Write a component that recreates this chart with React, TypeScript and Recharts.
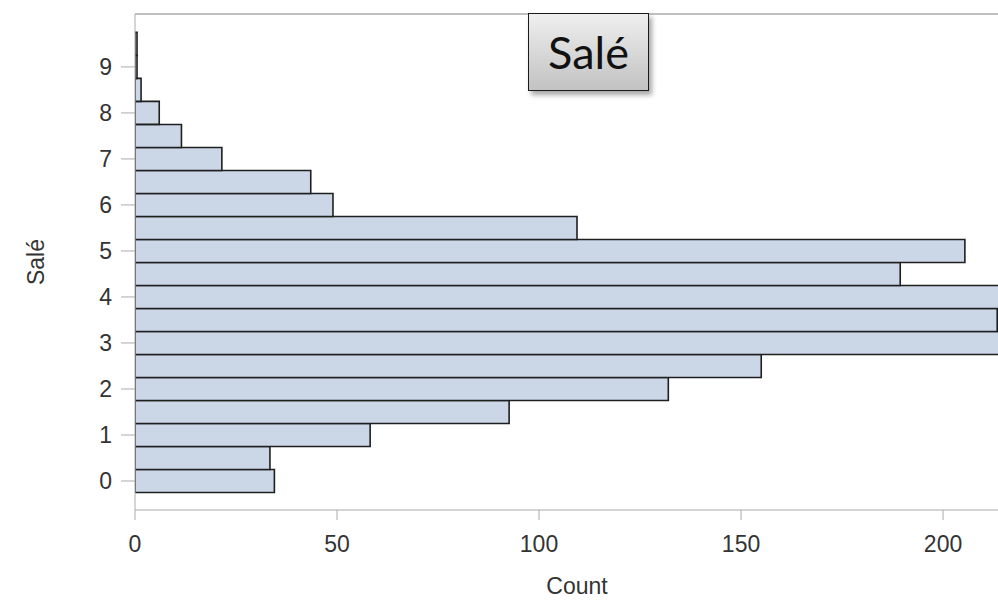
import React from 'react';
import { BarChart, Bar, XAxis, YAxis, ReferenceLine } from 'recharts';

// bin midpoints of "Salé" and their counts (bars above ~213 run off the frame)
const bins = [0, 0.5, 1, 1.5, 2, 2.5, 3, 3.5, 4, 4.5, 5, 5.5, 6, 6.5, 7, 7.5, 8, 8.5, 9, 9.5];
const counts = [34.5, 33.4, 58.2, 92.6, 132, 155, 225, 213.4, 230, 189.4, 205.4, 109.4, 49, 43.5, 21.5, 11.5, 6, 1.5, 0.5, 0.5];
const yTicks = [0, 1, 2, 3, 4, 5, 6, 7, 8, 9];
const xTicks = [0, 50, 100, 150, 200];

const data = bins.map((b, i) => ({ bin: b, count: counts[i] }));

const axisGray = '#a9abad';
const textGray = '#333333';

const CountLabel = (props: any) => {
    const vb = props.viewBox;
    return (
        <text x={577} y={vb.y + 84} textAnchor="middle" fill={textGray} fontSize={23}>
            Count
        </text>
    );
};

const App: React.FC = () => {
    return (
        <div style={{ position: 'relative', width: 998, height: 600, overflow: 'hidden', fontFamily: '"Liberation Sans", Arial, sans-serif' }}>
            <style>{'body { margin: 0; }'}</style>
            <BarChart
                width={998}
                height={600}
                data={data}
                layout="vertical"
                margin={{ top: 14, right: 0, left: 0, bottom: 0 }}
                barCategoryGap={0}
            >
                <XAxis
                    type="number"
                    dataKey="count"
                    domain={[0, 213.6]}
                    allowDataOverflow
                    ticks={xTicks}
                    height={90}
                    tickSize={10}
                    tickMargin={16}
                    stroke={axisGray}
                    tick={{ fill: textGray, fontSize: 23 }}
                    label={{ content: CountLabel }}
                />
                <YAxis
                    type="number"
                    dataKey="bin"
                    domain={[-0.63, 10.15]}
                    allowDataOverflow
                    reversed
                    ticks={yTicks}
                    width={135}
                    tickSize={14}
                    tickMargin={9}
                    stroke={axisGray}
                    tick={{ fill: textGray, fontSize: 23 }}
                    label={{ value: 'Salé', angle: -90, position: 'insideLeft', offset: 36, fill: textGray, fontSize: 23, style: { textAnchor: 'middle' } }}
                />
                <ReferenceLine y={10.15} stroke={axisGray} strokeWidth={1.5} ifOverflow="extendDomain" />
                <Bar
                    dataKey="count"
                    fill="#cbd7e7"
                    stroke="#1f1f1f"
                    strokeWidth={1.6}
                    barSize={23}
                    isAnimationActive={false}
                />
            </BarChart>
            <div
                style={{
                    position: 'absolute',
                    left: 528,
                    top: 13,
                    width: 119,
                    height: 76,
                    border: '1.5px solid #1a1a1a',
                    background: 'linear-gradient(#efefef, #c2c2c2)',
                    boxShadow: '3px 4px 5px rgba(0,0,0,0.35)',
                    display: 'flex',
                    alignItems: 'center',
                    justifyContent: 'center',
                    fontFamily: 'Lato, "Open Sans", sans-serif',
                    fontSize: 45,
                    color: '#111',
                }}
            >
                Salé
            </div>
        </div>
    );
};

export default App;
